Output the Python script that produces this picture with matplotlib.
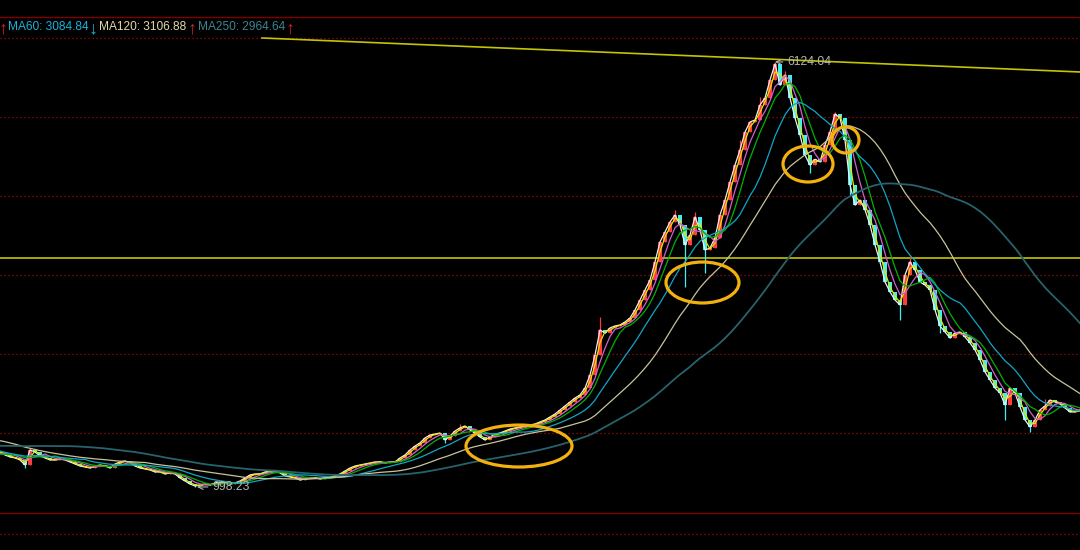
import numpy as np
import pandas as pd
import matplotlib
matplotlib.use("Agg")
import matplotlib.pyplot as plt
from matplotlib.patches import Ellipse

plt.rcParams['font.family'] = ['Liberation Sans', 'DejaVu Sans']

# weekly closes before the visible window, only used to warm up the moving averages
warmup_close = [1420, 1400, 1390, 1380,
                1380, 1370, 1360, 1370,
                1380, 1360, 1350, 1340,
                1330, 1320, 1350, 1380,
                1400, 1420, 1440, 1470, 1497,
                1530, 1580, 1600,
                1640, 1660, 1680, 1670,
                1700, 1720, 1740, 1730,
                1760, 1770, 1700, 1640,
                1600, 1580, 1560, 1570,
                1520, 1480, 1450, 1400,
                1390, 1400, 1380, 1370,
                1390, 1410]

# weekly closes across the chart (one bar per week)
close = [1420, 1384, 1360, 1348, 1324, 1263, 1444, 1420, 1372, 1348,
         1324, 1324, 1336, 1324, 1300, 1275, 1251, 1239, 1227, 1251,
         1263, 1251, 1227, 1275, 1300, 1312, 1287, 1251, 1227, 1215,
         1203, 1179, 1179, 1155, 1167, 1155, 1107, 1070, 1034, 1010,
         1022, 1034, 1022, 1046, 1058, 1046, 1034, 1046, 1070, 1107,
         1143, 1155, 1155, 1179, 1191, 1191, 1167, 1131, 1119, 1107,
         1082, 1094, 1107, 1107, 1094, 1107, 1119, 1131, 1155, 1191,
         1227, 1251, 1263, 1275, 1287, 1300, 1300, 1287, 1300, 1300,
         1348, 1384, 1444, 1492, 1529, 1589, 1625, 1637, 1649, 1565,
         1613, 1673, 1710, 1734, 1685, 1649, 1601, 1565, 1601, 1637,
         1649, 1673, 1697, 1710, 1722, 1734, 1746, 1758, 1782, 1806,
         1842, 1878, 1927, 1975, 2023, 2071, 2108, 2192, 2349, 2590,
         2891, 2855, 2916, 2940, 2952, 2988, 3036, 3133, 3253, 3374,
         3494, 3712, 3953, 4073, 4194, 4278, 4158, 3917, 4037, 4254,
         4097, 3856, 3880, 4001, 4278, 4459, 4676, 4881, 5062, 5279,
         5400, 5424, 5605, 5689, 5906, 6100, 5846, 5967, 5689, 5448,
         5243, 5000, 4880, 4950, 4920, 5123, 5279, 5496, 5448, 5183,
         4640, 4399, 4459, 4339, 4158, 3917, 3712, 3470, 3350, 3253,
         3193, 3555, 3712, 3615, 3470, 3434, 3374, 3133, 2940, 2867,
         2795, 2855, 2867, 2807, 2735, 2650, 2530, 2385, 2288, 2192,
         2132, 1987, 2192, 2132, 1963, 1806, 1722, 1806, 1927, 1975,
         2047, 2023, 1999, 1951, 1903, 1903, 1927]

wick_high = {6: 1470, 92: 1760, 120: 3050, 135: 4335, 139: 4311, 148: 5180,
             152: 5700, 155: 6124.04, 157: 6010, 167: 5522, 182: 3786, 209: 2060}
wick_low = {5: 1230, 39: 998.23, 89: 1530, 137: 3410, 141: 3579, 162: 4780,
            170: 4520, 180: 3012, 188: 2850, 201: 1806, 206: 1664}

ma_names = ['MA5', 'MA10', 'MA20', 'MA30', 'MA60', 'MA120', 'MA250']
ma_weeks = [1, 2, 4, 6, 12, 24, 50]
ma_colors = ['#f0f0f0', '#e6e600', '#d060d0', '#00b400', '#10a6c6', '#c8c49a', '#27636c']

# horizontal levels of the chart grid
solid_levels = [6666, 684]
dotted_levels = [6413, 5460, 4507, 3555, 2602, 1649, 431]

support_level = 3760
trend_x = [52.4, 216]
trend_y = [6413, 6003]

# orange circles: (week, price, width in weeks, height in points)
circles = [(103.8, 1492, 21.2, 506),
           (140.5, 3464, 14.6, 494),
           (161.6, 4893, 10.0, 434),
           (169.1, 5183, 5.4, 314)]

header = [('\u2191', '#d42020', -1),
          ('MA60: 3084.84', '#1ab2da', 8),
          ('\u2193', '#1ab2da', 89),
          ('MA120: 3106.88', '#e0d8a8', 99),
          ('\u2191', '#d42020', 188),
          ('MA250: 2964.64', '#3d8590', 198),
          ('\u2191', '#d42020', 286)]

n = len(close)
idx = np.arange(n)
allc = pd.Series(warmup_close + close, dtype=float)
c = np.array(close, dtype=float)
o = np.array([warmup_close[-1]] + close[:-1], dtype=float)
hi = np.maximum(o, c)
lo = np.minimum(o, c)
for k, v in wick_high.items():
    hi[k] = v
for k, v in wick_low.items():
    lo[k] = v

fig = plt.figure(figsize=(10.8, 5.5), dpi=100, facecolor='black')
ax = fig.add_axes([0, 0, 1, 1])
ax.set_facecolor('black')
ax.set_xlim(0, 216)
ax.set_ylim(238, 6871)
ax.axis('off')

for lv in solid_levels:
    ax.axhline(lv, color='#800000', lw=1.0, zorder=1)
for lv in dotted_levels:
    ax.axhline(lv, color='#a00c0c', lw=0.9, ls=(0, (1, 2.2)), zorder=1)

ax.axhline(support_level, color='#c4c400', lw=1.2, zorder=2)
ax.plot(trend_x, trend_y, color='#c4c400', lw=1.2, zorder=2)

up = c >= o
cols = np.where(up, '#ff3c3c', '#3ff0f0')
ax.vlines(idx, lo, hi, colors=cols, lw=0.9, zorder=3)
ax.bar(idx, np.maximum(np.abs(c - o), 10), bottom=np.minimum(o, c),
       width=0.8, color=cols, lw=0, zorder=3)

nw = len(warmup_close)
for name, w, col in zip(ma_names, ma_weeks, ma_colors):
    ma = allc.rolling(w).mean().values[nw:]
    lw = 1.3 if name == 'MA250' else 0.9
    ax.plot(idx, ma, color=col, lw=lw, zorder=4)

for cx, cy, w, h in circles:
    ax.add_patch(Ellipse((cx, cy), w, h, fill=False, ec='#f2b10e', lw=2.3, zorder=6))

ax.annotate('6124.04', xy=(155, 6124.04), xytext=(157.4, 6124.04), va='center', ha='left',
            color='#b4b4b4', fontsize=8.8,
            arrowprops=dict(arrowstyle='->', color='#b4b4b4', lw=0.8, shrinkA=1, shrinkB=0),
            zorder=7)
ax.annotate('998.23', xy=(39.4, 998.23), xytext=(42.4, 998.23), va='center', ha='left',
            color='#b4b4b4', fontsize=8.8,
            arrowprops=dict(arrowstyle='->', color='#b4b4b4', lw=0.8, shrinkA=1, shrinkB=0),
            zorder=7)

for txt, col, xp in header:
    if txt in ('\u2191', '\u2193'):
        fig.text(xp / 1080, 1 - 29 / 550, txt, color=col, fontsize=13, va='center',
                 ha='left', family='Liberation Sans')
    else:
        fig.text(xp / 1080, 1 - 27 / 550, txt, color=col, fontsize=8.6, va='center', ha='left')

fig.savefig('out.png', dpi=100, facecolor='black')
